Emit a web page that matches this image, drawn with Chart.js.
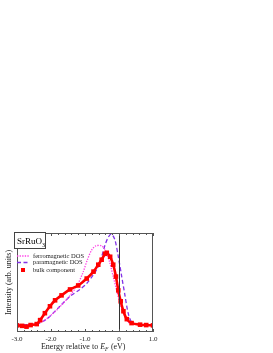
<!DOCTYPE html>
<html>
<head>
<meta charset="utf-8">
<script src="https://cdn.jsdelivr.net/npm/chart.js@4.4.1/dist/chart.umd.min.js"></script>
<style>
  html, body { margin: 0; padding: 0; background: #fff; }
  #theChart { display: block; }
</style>
</head>
<body>
<canvas id="theChart" width="273" height="353"></canvas>
<script>
// energy (eV) / intensity
const ferroX = [-3.0, -2.52, -2.23, -1.93, -1.64, -1.39, -1.2, -1.05, -0.93, -0.8, -0.68, -0.51, -0.41, -0.28, -0.17, -0.07, 0.03, 0.13, 0.27, 0.42, 1.0];
const ferroY = [0.067, 0.077, 0.11, 0.19, 0.29, 0.39, 0.49, 0.61, 0.73, 0.83, 0.87, 0.87, 0.83, 0.71, 0.56, 0.42, 0.29, 0.19, 0.10, 0.08, 0.067];

const paraX = [-3.0, -2.42, -2.13, -1.74, -1.44, -1.15, -0.95, -0.75, -0.61, -0.51, -0.41, -0.31, -0.22, -0.12, -0.02, 0.08, 0.18, 0.27, 0.37, 0.52, 1.0];
const paraY = [0.074, 0.08, 0.13, 0.26, 0.36, 0.43, 0.49, 0.58, 0.66, 0.76, 0.88, 0.96, 0.99, 0.93, 0.76, 0.56, 0.36, 0.19, 0.10, 0.08, 0.067];

const bulkX = [-3.0, -2.85, -2.72, -2.6, -2.42, -2.32, -2.18, -2.03, -1.88, -1.69, -1.44, -1.2, -0.95, -0.75, -0.61, -0.51, -0.41, -0.36, -0.26, -0.17, -0.09, -0.02, 0.05, 0.13, 0.23, 0.37, 0.62, 0.8, 1.0];
const bulkY = [0.067, 0.062, 0.054, 0.07, 0.08, 0.12, 0.19, 0.26, 0.32, 0.37, 0.43, 0.47, 0.54, 0.61, 0.68, 0.73, 0.79, 0.80, 0.76, 0.68, 0.56, 0.42, 0.31, 0.21, 0.13, 0.09, 0.074, 0.07, 0.067];

const xTicks = [-3, -2, -1, 0, 1];
const xTickLabels = ["-3.0", "-2.0", "-1.0", "0", "1.0"];

const COLORS = {
  ferro: "rgb(255, 60, 230)",
  para: "rgb(130, 50, 230)",
  bulk: "rgb(255, 0, 0)",
};

const SERIF = "'Liberation Serif', 'DejaVu Serif', serif";

function pts(xs, ys) {
  return xs.map((x, i) => ({ x: x, y: ys[i] }));
}

// frame, inward ticks, E_F line, legend, titles
const decorPlugin = {
  id: "decor",
  afterDatasetsDraw(chart) {
    const ctx = chart.ctx;
    const a = chart.chartArea;
    const xs = chart.scales.x;
    ctx.save();

    // vertical line at E_F
    const x0 = Math.round(xs.getPixelForValue(0)) + 0.5;
    ctx.strokeStyle = "#333";
    ctx.lineWidth = 1;
    ctx.beginPath();
    ctx.moveTo(x0, a.top);
    ctx.lineTo(x0, a.bottom);
    ctx.stroke();

    // frame
    ctx.strokeStyle = "#555";
    ctx.strokeRect(a.left + 0.5, a.top + 0.5, a.right - a.left - 1, a.bottom - a.top - 1);

    // inward ticks on top and bottom
    for (let i = 0; i <= 20; i++) {
      const v = -3 + i * 0.2;
      const px = Math.round(xs.getPixelForValue(v)) + 0.5;
      const len = i % 5 === 0 ? 3 : 2;
      ctx.beginPath();
      ctx.moveTo(px, a.top);
      ctx.lineTo(px, a.top + len);
      ctx.moveTo(px, a.bottom);
      ctx.lineTo(px, a.bottom - len);
      ctx.stroke();
    }

    // sample box
    ctx.fillStyle = "#fff";
    ctx.fillRect(14.5, 232.5, 31, 16);
    ctx.strokeStyle = "#444";
    ctx.strokeRect(14.5, 232.5, 31, 16);
    ctx.fillStyle = "#000";
    ctx.textBaseline = "alphabetic";
    ctx.textAlign = "left";
    ctx.font = "9px " + SERIF;
    ctx.fillText("SrRuO", 17, 244);
    const w = ctx.measureText("SrRuO").width;
    ctx.font = "6px " + SERIF;
    ctx.fillText("3", 17 + w, 246.5);

    // legend
    ctx.font = "6.5px " + SERIF;
    ctx.textBaseline = "middle";
    ctx.lineWidth = 1.3;
    ctx.strokeStyle = COLORS.ferro;
    ctx.setLineDash([1.3, 1.3]);
    ctx.beginPath(); ctx.moveTo(17, 256); ctx.lineTo(30, 256); ctx.stroke();
    ctx.strokeStyle = COLORS.para;
    ctx.setLineDash([4, 2.5]);
    ctx.beginPath(); ctx.moveTo(17, 262.5); ctx.lineTo(30, 262.5); ctx.stroke();
    ctx.setLineDash([]);
    ctx.fillStyle = COLORS.bulk;
    ctx.fillRect(21, 268, 4, 4);
    ctx.fillStyle = "#222";
    ctx.fillText(chart.data.datasets[0].label, 33, 256);
    ctx.fillText(chart.data.datasets[1].label, 33, 262.5);
    ctx.fillText(chart.data.datasets[2].label, 33, 270);

    // x title with E_F
    ctx.textBaseline = "alphabetic";
    ctx.font = "8px " + SERIF;
    const p1 = "Energy relative to ";
    const p3 = " (eV)";
    const w1 = ctx.measureText(p1).width;
    const w3 = ctx.measureText(p3).width;
    ctx.font = "italic 8px " + SERIF;
    const wE = ctx.measureText("E").width;
    ctx.font = "italic 5.5px " + SERIF;
    const wF = ctx.measureText("F").width;
    let tx = (a.left + a.right) / 2 - (w1 + wE + wF + w3) / 2 - 2;
    const ty = 349;
    ctx.font = "8px " + SERIF;
    ctx.fillText(p1, tx, ty); tx += w1;
    ctx.font = "italic 8px " + SERIF;
    ctx.fillText("E", tx, ty); tx += wE;
    ctx.font = "italic 5.5px " + SERIF;
    ctx.fillText("F", tx, ty + 2); tx += wF + 0.5;
    ctx.font = "8px " + SERIF;
    ctx.fillText(p3, tx, ty);

    // y title
    ctx.save();
    ctx.translate(8.5, (a.top + a.bottom) / 2);
    ctx.rotate(-Math.PI / 2);
    ctx.textAlign = "center";
    ctx.textBaseline = "middle";
    ctx.font = "8px " + SERIF;
    ctx.fillText("Intensity (arb. units)", 0, 0);
    ctx.restore();

    ctx.restore();
  },
};

const config = {
  type: "line",
  data: {
    datasets: [
      {
        label: "ferromagnetic DOS",
        data: pts(ferroX, ferroY),
        borderColor: COLORS.ferro,
        borderWidth: 1.3,
        borderDash: [1.3, 1.3],
        pointRadius: 0,
        tension: 0.3,
        fill: false,
        order: 2,
      },
      {
        label: "paramagnetic DOS",
        data: pts(paraX, paraY),
        borderColor: COLORS.para,
        borderWidth: 1.3,
        borderDash: [4, 2.5],
        pointRadius: 0,
        tension: 0.3,
        fill: false,
        order: 3,
      },
      {
        label: "bulk component",
        data: pts(bulkX, bulkY),
        borderColor: COLORS.bulk,
        backgroundColor: COLORS.bulk,
        borderWidth: 2.6,
        pointStyle: "rect",
        pointRadius: 1.4,
        tension: 0.2,
        fill: false,
        order: 1,
      },
    ],
  },
  options: {
    responsive: false,
    animation: false,
    devicePixelRatio: 1,
    layout: {
      padding: { top: 233, right: 120, left: 0, bottom: 0 },
    },
    plugins: {
      legend: { display: false },
      tooltip: { enabled: false },
    },
    scales: {
      x: {
        type: "linear",
        min: -3,
        max: 1,
        afterFit: (s) => { s.height = 21; },
        afterBuildTicks: (s) => { s.ticks = xTicks.map((v) => ({ value: v })); },
        grid: { display: false, drawTicks: false },
        border: { display: false },
        ticks: {
          padding: 3,
          color: "#222",
          font: { family: SERIF, size: 7 },
          callback: (v) => xTickLabels[xTicks.indexOf(v)],
        },
      },
      y: {
        type: "linear",
        min: 0,
        max: 1,
        afterFit: (s) => { s.width = 17; },
        grid: { display: false, drawTicks: false },
        border: { display: false },
        ticks: { display: false },
      },
    },
  },
  plugins: [decorPlugin],
};

const theChart = new Chart(document.getElementById("theChart"), config);
</script>
</body>
</html>
